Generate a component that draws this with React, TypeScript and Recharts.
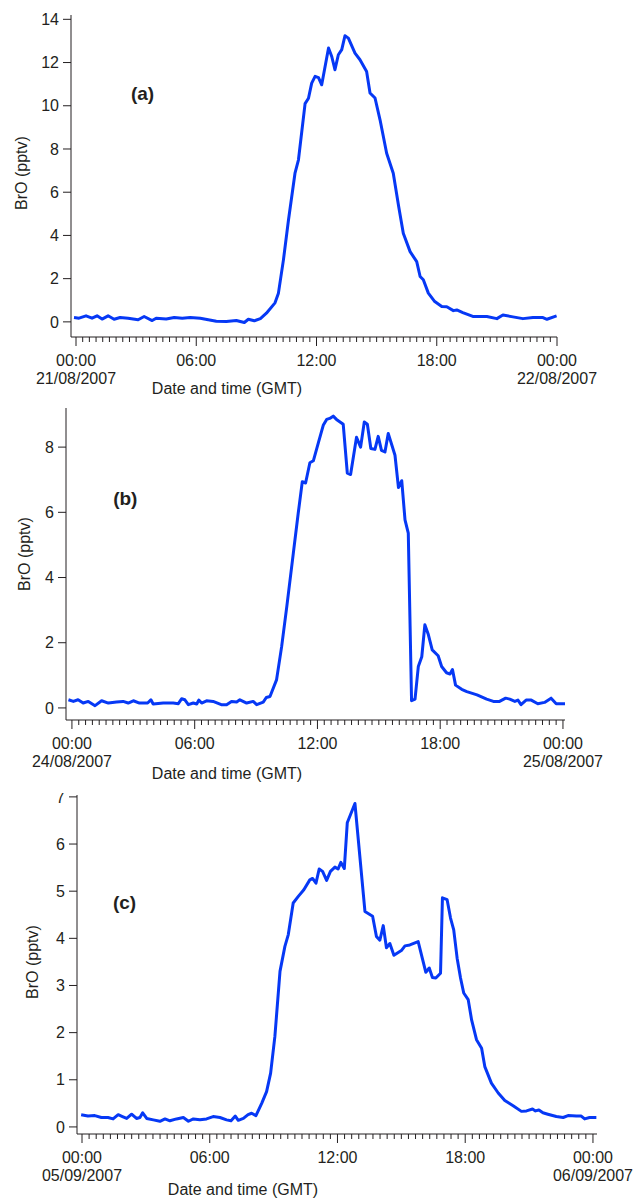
import { LineChart, Line, XAxis, YAxis, ReferenceDot } from "recharts"

// hours since 00:00 GMT and BrO mixing ratio (pptv)
const hoursA = [
  -0.1, 0.15, 0.5, 0.8, 1.05, 1.3, 1.6, 1.9, 2.2, 2.6, 3.1, 3.4, 3.8, 4.0, 4.5, 4.9, 5.3, 5.7, 6.2, 6.6,
  7.0, 7.5, 8.0, 8.4, 8.6, 8.9, 9.2, 9.5, 9.93, 10.1, 10.35, 10.6, 10.93, 11.1, 11.43, 11.6, 11.76, 11.93,
  12.1, 12.26, 12.6, 12.76, 12.92, 13.09, 13.26, 13.42, 13.59, 13.92, 14.17, 14.5, 14.67, 14.92, 15.17,
  15.5, 15.83, 16.1, 16.33, 16.67, 17.0, 17.17, 17.33, 17.58, 17.9, 18.25, 18.5, 18.83, 19.0, 19.3, 19.8,
  20.5, 21.0, 21.3, 21.8, 22.3, 22.8, 23.3, 23.5, 23.98,
]
const broA = [
  0.2, 0.17, 0.28, 0.17, 0.28, 0.13, 0.28, 0.12, 0.2, 0.17, 0.1, 0.25, 0.06, 0.17, 0.13, 0.2, 0.17, 0.2, 0.17, 0.1,
  0.03, 0.02, 0.06, -0.03, 0.12, 0.05, 0.15, 0.4, 0.88, 1.33, 2.87, 4.7, 6.9, 7.5, 10.1, 10.35, 11.05, 11.36,
  11.3, 10.97, 12.67, 12.28, 11.67, 12.36, 12.6, 13.24, 13.13, 12.44, 12.13, 11.59, 10.59, 10.36, 9.35,
  7.8, 6.88, 5.34, 4.1, 3.25, 2.79, 2.1, 1.95, 1.33, 0.94, 0.71, 0.7, 0.52, 0.55, 0.43, 0.25,
  0.25, 0.15, 0.32, 0.23, 0.15, 0.2, 0.2, 0.12, 0.28,
]

const hoursB = [
  -0.17, 0.07, 0.3, 0.55, 0.8, 1.13, 1.45, 1.78, 2.18, 2.5, 2.75, 3.0, 3.3, 3.7, 3.86, 3.97, 4.46, 4.95, 5.2,
  5.36, 5.52, 5.69, 5.93, 6.1, 6.2, 6.34, 6.58, 6.9, 7.3, 7.56, 7.8, 8.05, 8.21, 8.54, 8.86, 9.03, 9.35, 9.5,
  9.68, 10.0, 10.25, 10.5, 10.82, 11.06, 11.26, 11.42, 11.63, 11.8, 12.04, 12.29, 12.45, 12.6, 12.77, 12.93,
  13.26, 13.46, 13.62, 13.91, 14.11, 14.29, 14.44, 14.61, 14.81, 14.97, 15.13, 15.3, 15.46, 15.79, 15.96,
  16.12, 16.28, 16.44, 16.6, 16.77, 16.93, 17.1, 17.25, 17.42, 17.61, 17.9, 18.07, 18.31, 18.48, 18.6, 18.75,
  19.05, 19.3, 19.8, 20.27, 20.6, 20.9, 21.2, 21.4, 21.65, 21.8, 21.95, 22.2, 22.45, 22.77, 23.1, 23.42,
  23.67, 24.1,
]
const broB = [
  0.25, 0.2, 0.25, 0.15, 0.2, 0.07, 0.22, 0.15, 0.18, 0.2, 0.15, 0.22, 0.15, 0.15, 0.25, 0.12, 0.15, 0.15, 0.13,
  0.28, 0.25, 0.1, 0.15, 0.12, 0.24, 0.15, 0.22, 0.2, 0.1, 0.1, 0.2, 0.18, 0.25, 0.15, 0.2, 0.1, 0.18, 0.32,
  0.35, 0.86, 1.88, 3.1, 4.74, 5.97, 6.94, 6.9, 7.52, 7.58, 8.12, 8.68, 8.85, 8.88, 8.95, 8.85,
  8.7, 7.2, 7.16, 8.3, 8.0, 8.77, 8.7, 7.96, 7.93, 8.33, 7.9, 7.85, 8.42, 7.75, 6.76,
  6.97, 5.77, 5.36, 0.22, 0.27, 1.27, 1.57, 2.55, 2.25, 1.78, 1.6, 1.27, 1.08, 1.04, 1.18, 0.7,
  0.57, 0.5, 0.4, 0.27, 0.2, 0.2, 0.3, 0.27, 0.2, 0.24, 0.1, 0.24, 0.24, 0.13, 0.17, 0.3,
  0.13, 0.13,
]

const hoursC = [
  -0.04, 0.28, 0.6, 0.91, 1.22, 1.46, 1.7, 1.9, 2.1, 2.33, 2.56, 2.72, 2.85, 3.04, 3.35, 3.66, 3.9, 4.13, 4.44,
  4.76, 5.0, 5.23, 5.54, 5.85, 6.16, 6.48, 6.79, 7.0, 7.2, 7.34, 7.58, 7.8, 7.97, 8.17, 8.44, 8.67, 8.86, 9.06,
  9.3, 9.53, 9.69, 9.92, 10.16, 10.42, 10.7, 10.83, 10.99, 11.14, 11.3, 11.49, 11.67, 11.88, 12.03, 12.16,
  12.32, 12.46, 12.82, 13.29, 13.65, 13.83, 13.99, 14.15, 14.3, 14.46, 14.65, 15.0, 15.17, 15.4, 15.79, 16.15,
  16.31, 16.46, 16.62, 16.84, 16.93, 17.15, 17.31, 17.46, 17.62, 17.78, 17.93, 18.14, 18.3, 18.53, 18.77,
  18.92, 19.23, 19.55, 19.86, 20.25, 20.64, 20.88, 21.16, 21.3, 21.46, 21.65, 21.88, 22.28, 22.6, 22.83,
  23.22, 23.45, 23.61, 23.84, 24.16,
]
const broC = [
  0.26, 0.23, 0.24, 0.2, 0.2, 0.17, 0.26, 0.22, 0.18, 0.27, 0.18, 0.2, 0.3, 0.18, 0.15, 0.12, 0.17, 0.13, 0.17,
  0.2, 0.12, 0.17, 0.15, 0.17, 0.22, 0.2, 0.15, 0.13, 0.23, 0.14, 0.18, 0.26, 0.29, 0.24, 0.5, 0.75, 1.14, 1.92,
  3.3, 3.83, 4.08, 4.75, 4.89, 5.03, 5.24, 5.27, 5.17, 5.47, 5.42, 5.23, 5.42, 5.51, 5.47, 5.61,
  5.48, 6.45, 6.86, 4.57, 4.47, 4.04, 3.96, 4.27, 3.8, 3.89, 3.64, 3.74, 3.84, 3.86, 3.93, 3.28,
  3.37, 3.17, 3.16, 3.26, 4.86, 4.82, 4.43, 4.18, 3.58, 3.16, 2.84, 2.7, 2.27, 1.85, 1.67,
  1.28, 0.93, 0.72, 0.56, 0.45, 0.33, 0.34, 0.38, 0.34, 0.36, 0.3, 0.27, 0.22, 0.2, 0.24,
  0.23, 0.23, 0.17, 0.2, 0.2,
]

const ticksA = [0, 2, 4, 6, 8, 10, 12, 14]
const ticksB = [0, 2, 4, 6, 8]
const ticksC = [0, 1, 2, 3, 4, 5, 6, 7]
const hourLabels = ["00:00", "06:00", "12:00", "18:00", "00:00"]

// minor ticks every 20 minutes, labelled every 6 h
const timeTicks = Array.from({ length: 73 }, (_, i) => i / 3)

const FONT = "'Liberation Sans', Arial, sans-serif"
const INK = "#231f20"
const BLUE = "#0638f5"

function TimeTick(props: any) {
  const { x, y, payload, startDate, endDate } = props
  const k = Math.round(payload.value * 3)
  const major = k % 18 === 0
  return (
    <g>
      <line x1={x} x2={x} y1={y} y2={y + (major ? 9 : 5)} stroke={INK} strokeWidth={1} />
      {major && (
        <text x={x} y={y + 29} textAnchor="middle" fontSize={16} fill={INK} fontFamily={FONT}>
          {hourLabels[k / 18]}
        </text>
      )}
      {k === 0 && (
        <text x={x} y={y + 47} textAnchor="middle" fontSize={16} fill={INK} fontFamily={FONT}>
          {startDate}
        </text>
      )}
      {k === 72 && (
        <text x={x} y={y + 47} textAnchor="middle" fontSize={16} fill={INK} fontFamily={FONT}>
          {endDate}
        </text>
      )}
    </g>
  )
}

function Panel(props: any) {
  const { hours, values, top, height, margin, plotHeight, xDomain, yDomain, yTicks, startDate, endDate,
    letter, letterAt, titleX, titleDy, yLabelX, yLabelY } = props
  const data = hours.map((t: number, i: number) => ({ t, v: values[i] }))
  return (
    <div style={{ position: "absolute", left: 0, top, width: 636, height, overflow: "hidden" }}>
      <LineChart width={636} height={height} data={data} margin={margin}>
        <XAxis
          dataKey="t"
          type="number"
          domain={xDomain}
          allowDataOverflow
          ticks={timeTicks}
          interval={0}
          tickLine={false}
          tickSize={0}
          tickMargin={0}
          height={height - margin.top - margin.bottom - plotHeight}
          axisLine={{ stroke: INK, strokeWidth: 1 }}
          tick={(p: any) => <TimeTick {...p} startDate={startDate} endDate={endDate} />}
          label={{
            content: (lp: any) => (
              <text
                x={titleX}
                y={lp.viewBox.y + titleDy}
                textAnchor="middle"
                fontSize={16}
                fill={INK}
                fontFamily={FONT}
              >
                Date and time (GMT)
              </text>
            ),
          }}
        />
        <YAxis
          type="number"
          domain={yDomain}
          allowDataOverflow
          ticks={yTicks}
          interval={0}
          width={margin.plotLeft}
          tickSize={8}
          tickMargin={4}
          axisLine={{ stroke: INK, strokeWidth: 1 }}
          tickLine={{ stroke: INK, strokeWidth: 1 }}
          tick={{ fontSize: 16, fill: INK, fontFamily: FONT }}
          label={{
            content: () => (
              <text
                x={yLabelX}
                y={yLabelY}
                transform={`rotate(-90 ${yLabelX} ${yLabelY})`}
                textAnchor="middle"
                dominantBaseline="central"
                fontSize={16}
                fill={INK}
                fontFamily={FONT}
              >
                BrO (pptv)
              </text>
            ),
          }}
        />
        <ReferenceDot
          x={letterAt[0]}
          y={letterAt[1]}
          r={0}
          fill="none"
          stroke="none"
          label={{ value: letter, position: "center", fontSize: 19, fontWeight: "bold", fill: INK, fontFamily: FONT }}
        />
        <Line
          type="linear"
          dataKey="v"
          stroke={BLUE}
          strokeWidth={3}
          strokeLinejoin="round"
          dot={false}
          isAnimationActive={false}
        />
      </LineChart>
    </div>
  )
}

export default function App() {
  return (
    <div style={{ position: "absolute", left: 0, top: 0, width: 636, height: 1199, background: "#fff" }}>
      <Panel
        hours={hoursA}
        values={broA}
        top={0}
        height={402}
        plotHeight={322}
        margin={{ top: 15, right: 79, bottom: 0, left: 0, plotLeft: 71 }}
        xDomain={[-0.25, 24.0]}
        yDomain={[-0.7, 14.2]}
        yTicks={ticksA}
        startDate="21/08/2007"
        endDate="22/08/2007"
        letter="(a)"
        letterAt={[3.32, 10.6]}
        titleX={227}
        titleDy={57}
        yLabelX={21}
        yLabelY={173}
      />
      <Panel
        hours={hoursB}
        values={broB}
        top={398}
        height={392}
        plotHeight={312}
        margin={{ top: 10, right: 71, bottom: 0, left: 0, plotLeft: 66 }}
        xDomain={[-0.29, 24.1]}
        yDomain={[-0.37, 9.2]}
        yTicks={ticksB}
        startDate="24/08/2007"
        endDate="25/08/2007"
        letter="(b)"
        letterAt={[2.61, 6.44]}
        titleX={227}
        titleDy={59}
        yLabelX={24}
        yLabelY={156}
      />
      <Panel
        hours={hoursC}
        values={broC}
        top={793}
        height={406}
        plotHeight={339}
        margin={{ top: 2, right: 39, bottom: 0, left: 0, plotLeft: 77 }}
        xDomain={[-0.235, 24.19]}
        yDomain={[-0.15, 7.04]}
        yTicks={ticksC}
        startDate="05/09/2007"
        endDate="06/09/2007"
        letter="(c)"
        letterAt={[2.0, 4.76]}
        titleX={243}
        titleDy={61}
        yLabelX={32}
        yLabelY={169}
      />
    </div>
  )
}
